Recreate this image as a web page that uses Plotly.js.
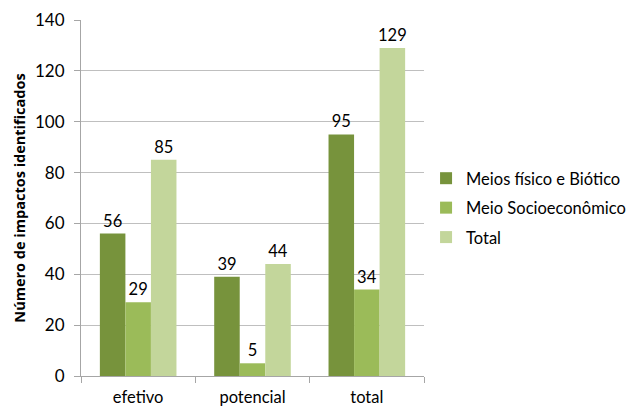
<!DOCTYPE html>
<html><head><meta charset="utf-8">
<script src="https://cdn.plot.ly/plotly-3.0.1.min.js"></script>
<style>html,body{margin:0;padding:0;background:#fff}#chart{width:626px;height:407px}</style>
</head><body><div id="chart"></div>
<script>
const categories = ["efetivo", "potencial", "total"];
const seriesNames = ["Meios físico e Biótico", "Meio Socioeconômico", "Total"];
const fisicoBiotico = [56, 39, 95];
const socioeconomico = [29, 5, 34];
const totalSerie = [85, 44, 129];
const colors = ["#77933C", "#9BBB59", "#C3D69B"];
const yTicks = [0, 20, 40, 60, 80, 100, 120, 140];

const font = "Lato, 'Open Sans', sans-serif";
const traces = [fisicoBiotico, socioeconomico, totalSerie].map((vals, i) => ({
  type: "bar", name: seriesNames[i], x: categories, y: vals,
  legendgroup: "g" + i,
  marker: {color: colors[i]},
  text: vals.map(String), textposition: "outside", cliponaxis: false,
  constraintext: "none",
  textfont: {family: font, size: 16.5, color: "#000"},
  hoverinfo: "none"
}));

const layout = {
  width: 626, height: 407,
  margin: {l: 81, r: 202, t: 20, b: 31, autoexpand: false},
  paper_bgcolor: "#fff", plot_bgcolor: "#fff",
  barmode: "group", bargap: 0.33, bargroupgap: 0,
  showlegend: true,
  font: {family: font, size: 16.5, color: "#000"},
  xaxis: {
    type: "category", tickson: "boundaries", ticks: "outside", ticklen: 6,
    tickcolor: "#A6A6A6", showline: true, linecolor: "#A6A6A6", linewidth: 1,
    showgrid: false, automargin: false, ticklabelstandoff: 6,
    tickfont: {family: font, size: 16.5, color: "#000"}
  },
  yaxis: {
    range: [0, 140], tickvals: yTicks, ticktext: yTicks.map(String),
    ticks: "outside", ticklen: 6, tickcolor: "#A6A6A6", automargin: false,
    ticklabelstandoff: 6,
    showline: true, linecolor: "#A6A6A6", linewidth: 1,
    gridcolor: "#BFBFBF", gridwidth: 1, zeroline: false,
    tickfont: {family: font, size: 17, color: "#000"},
    title: {text: "Número de impactos identificados", font: {family: "'Open Sans', sans-serif", size: 14.5, color: "#000", weight: "bold"}, standoff: 5}
  },
  legend: {
    x: 1.006, xanchor: "left", y: 0.472, yanchor: "middle",
    font: {family: font, size: 16.5, color: "#000"},
    itemwidth: 30, tracegroupgap: 5, traceorder: "grouped"
  }
};
Plotly.newPlot("chart", traces, layout, {staticPlot: true});
</script></body></html>
